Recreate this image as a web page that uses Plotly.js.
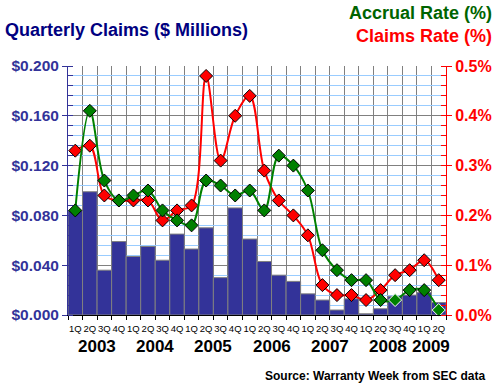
<!DOCTYPE html>
<html>
<head>
<meta charset="utf-8">
<script src="https://cdn.plot.ly/plotly-3.0.1.min.js"></script>
<style>html,body{margin:0;padding:0;background:#fff;}#chart{width:500px;height:387px;}</style>
</head>
<body>
<div id="chart"></div>
<script>
// ---- data ----
var quarters = ['1Q','2Q','3Q','4Q','1Q','2Q','3Q','4Q','1Q','2Q','3Q','4Q','1Q','2Q','3Q','4Q','1Q','2Q','3Q','4Q','1Q','2Q','3Q','4Q','1Q','2Q'];
var years = ['2003','2003','2003','2003','2004','2004','2004','2004','2005','2005','2005','2005','2006','2006','2006','2006','2007','2007','2007','2007','2008','2008','2008','2008','2009','2009'];
var claims = [0.084, 0.099, 0.036, 0.059, 0.047, 0.055, 0.044, 0.065, 0.053, 0.070, 0.030, 0.086, 0.061, 0.043, 0.032, 0.027, 0.017, 0.012, 0.004, 0.013, 0.001, 0.005, 0.015, 0.016, 0.018, 0.010];
var claimsRate = [0.33, 0.34, 0.24, 0.23, 0.23, 0.23, 0.19, 0.21, 0.22, 0.48, 0.31, 0.40, 0.44, 0.29, 0.23, 0.20, 0.16, 0.06, 0.04, 0.04, 0.03, 0.05, 0.08, 0.09, 0.11, 0.07];
var accrualRate = [0.21, 0.41, 0.27, 0.23, 0.24, 0.25, 0.21, 0.19, 0.18, 0.27, 0.26, 0.24, 0.25, 0.21, 0.32, 0.30, 0.25, 0.13, 0.09, 0.07, 0.07, 0.03, 0.03, 0.05, 0.05, 0.01];

// ---- derived ----
var idx = quarters.map(function(_, i){ return i; });
var bounds = [];
for (var i = 0; i <= quarters.length; i++) bounds.push(i - 0.5);
var yearList = [];
var yearPos = {};
years.forEach(function(y, i){
  if (!(y in yearPos)) { yearPos[y] = []; yearList.push(y); }
  yearPos[y].push(i);
});
var greenOutline = accrualRate.map(function(v, i){ return (i === 22 || i === 25) ? '#ffffff' : '#000000'; });

var FONT = 'Liberation Sans, Arial, sans-serif';

var traces = [
  {
    type: 'bar', x: idx, y: claims, yaxis: 'y',
    marker: {color: '#333399', line: {color: '#808080', width: 1}},
    hoverinfo: 'skip'
  },
  {
    type: 'scatter', mode: 'lines+markers', x: idx, y: claimsRate, yaxis: 'y2',
    line: {color: '#ff0000', width: 2, shape: 'spline', smoothing: 1},
    marker: {symbol: 'diamond', size: 10, color: '#ff0000', line: {color: '#000000', width: 1}},
    cliponaxis: false
  },
  {
    type: 'scatter', mode: 'lines+markers', x: idx, y: accrualRate, yaxis: 'y2',
    line: {color: '#008000', width: 2, shape: 'spline', smoothing: 1},
    marker: {symbol: 'diamond', size: 10, color: '#008000', line: {color: greenOutline, width: 1}},
    cliponaxis: false
  }
];

var annotations = [
  {text: 'Quarterly Claims ($ Millions)', xref: 'paper', yref: 'paper', x: -65/378, y: (315-30)/249,
   xanchor: 'left', yanchor: 'middle', showarrow: false,
   font: {family: FONT, size: 18, color: '#000080', weight: 'bold'}},
  {text: 'Accrual Rate (%)', xref: 'paper', yref: 'paper', x: (494-68)/378, y: (315-12.5)/249,
   xanchor: 'right', yanchor: 'middle', showarrow: false,
   font: {family: FONT, size: 18, color: '#006400', weight: 'bold'}},
  {text: 'Claims Rate (%)', xref: 'paper', yref: 'paper', x: (494-68)/378, y: (315-35.5)/249,
   xanchor: 'right', yanchor: 'middle', showarrow: false,
   font: {family: FONT, size: 18, color: '#ff0000', weight: 'bold'}},
  {text: 'Source: Warranty Week from SEC data', xref: 'paper', yref: 'paper', x: (487-68)/378, y: -(376-315)/249,
   xanchor: 'right', yanchor: 'middle', showarrow: false,
   font: {family: FONT, size: 12, color: '#000000', weight: 'bold'}}
];
yearList.forEach(function(y){
  var p = yearPos[y];
  var mid = (p[0] + p[p.length-1]) / 2;
  annotations.push({text: y, xref: 'x', yref: 'paper', x: mid, y: -(346-315)/249,
    xanchor: 'center', yanchor: 'middle', showarrow: false,
    font: {family: FONT, size: 17, color: '#000000', weight: 'bold'}});
});

var layout = {
  width: 500, height: 387,
  margin: {l: 68, r: 54, t: 66, b: 72, pad: 0},
  paper_bgcolor: '#ffffff', plot_bgcolor: '#ffffff',
  showlegend: false,
  bargap: 0,
  font: {family: FONT},
  xaxis: {
    range: [-0.5, quarters.length - 0.5],
    tickmode: 'array', tickvals: idx, ticktext: quarters,
    tickangle: 0,
    ticks: '', showgrid: false, zeroline: false,
    ticklabelstandoff: 5,
    showline: true, linecolor: '#000000', linewidth: 1,
    tickfont: {family: FONT, size: 9.5, color: '#000000'},
    minor: {tickmode: 'array', tickvals: bounds, ticks: 'outside', ticklen: 4, tickcolor: '#000000',
            showgrid: true, gridcolor: '#808080', gridwidth: 1}
  },
  yaxis: {
    range: [0, 0.2], dtick: 0.04, tick0: 0,
    tickformat: '.3f', tickprefix: '$',
    ticks: 'outside', ticklen: 5, tickcolor: '#333399',
    showline: true, linecolor: '#333399', linewidth: 1,
    showgrid: true, gridcolor: '#808080', gridwidth: 1, zeroline: false,
    tickfont: {family: FONT, size: 15.5, color: '#333399', weight: 'bold'},
    minor: {dtick: 0.008, ticks: 'inside', ticklen: 5, tickcolor: '#333399',
            showgrid: true, gridcolor: '#99ccff', gridwidth: 1}
  },
  yaxis2: {
    overlaying: 'y', side: 'right',
    range: [0, 0.5], dtick: 0.1, tick0: 0,
    tickformat: '.1f', ticksuffix: '%',
    ticks: 'outside', ticklen: 5, tickcolor: '#ff0000',
    showline: true, linecolor: '#ff0000', linewidth: 1,
    showgrid: false, zeroline: false,
    tickfont: {family: FONT, size: 16, color: '#ff0000', weight: 'bold'},
    minor: {dtick: 0.02, ticks: 'inside', ticklen: 5, tickcolor: '#ff0000', showgrid: false}
  },
  annotations: annotations
};

Plotly.newPlot('chart', traces, layout, {displayModeBar: false, staticPlot: true});
</script>
</body>
</html>
